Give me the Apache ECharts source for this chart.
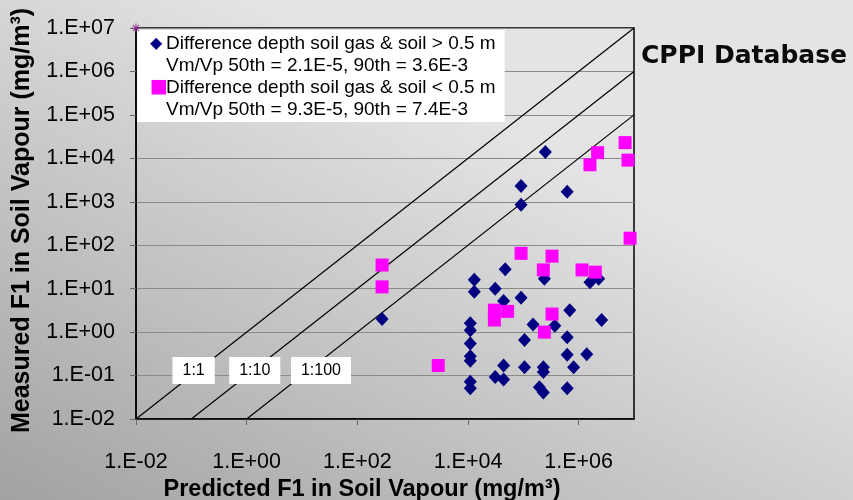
<!DOCTYPE html>
<html>
<head>
<meta charset="utf-8">
<script src="https://cdn.jsdelivr.net/npm/echarts@6/dist/echarts.min.js"></script>
<style>
  html, body { margin: 0; padding: 0; }
  #chart { width: 853px; height: 500px; }
</style>
</head>
<body>
<div id="chart"></div>
<script>
// depth difference > 0.5 m
const deepPredicted = [2.5e5, 9.1e4, 6.2e5, 9.1e4, 4.7e4, 2.4e5, 1.6e6, 2.3e6, 1.3e4, 1.3e4,
  3.1e4, 4.4e4, 9.1e4, 2.8e2, 6.9e5, 2.6e6, 1.5e5, 3.7e5, 1.1e4, 1.1e4,
  1.1e4, 1.05e5, 6.2e5, 1.1e4, 1.1e4, 6.2e5, 1.4e6, 4.4e4, 1.05e5, 2.3e5,
  2.3e5, 8.1e5, 3.1e4, 4.4e4, 1.1e4, 1.1e4, 1.95e5, 2.3e5, 6.2e5]
const deepMeasured = [1.4e4, 2.3e3, 1.7e3, 850, 28, 17, 14, 17, 16, 8.5,
  10, 5.2, 6.2, 2.0, 3.2, 1.9, 1.5, 1.4, 1.6, 1.1,
  0.55, 0.66, 0.76, 0.28, 0.22, 0.30, 0.31, 0.17, 0.155, 0.155,
  0.12, 0.155, 0.093, 0.081, 0.072, 0.051, 0.054, 0.041, 0.051]

// depth difference < 0.5 m
const shallowPredicted = [6.9e6, 2.2e6, 1.6e6, 7.8e6, 8.5e6, 9.1e4, 3.3e5, 2.8e2, 2.8e2,
  2.3e5, 1.15e6, 2.0e6, 3.0e4, 3.0e4, 5.2e4, 3.3e5, 2.4e5, 2.9e3]
const shallowMeasured = [2.3e4, 1.35e4, 7.1e3, 9.1e3, 145, 65, 56, 35, 11,
  27, 27, 24, 3.2, 1.9, 3.0, 2.6, 1.0, 0.17]

const deepName = "Difference depth soil gas & soil > 0.5 m"
const shallowName = "Difference depth soil gas & soil < 0.5 m"
const statsText = {
  [deepName]: "Vm/Vp 50th = 2.1E-5, 90th = 3.6E-3",
  [shallowName]: "Vm/Vp 50th = 9.3E-5, 90th = 7.4E-3",
}

// reference lines (predicted, measured end points)
const line1to1 = [[0.01, 0.01], [1e7, 1e7]]
const line1to10 = [[0.1, 0.01], [1e7, 1e6]]
const line1to100 = [[1, 0.01], [1e7, 1e5]]
const scaleMarker = [[0.01, 1e7]]

const zip = (xs, ys) => xs.map((x, i) => [x, ys[i]])

function expLabel(v) {
  const e = Math.round(Math.log10(v))
  return "1.E" + (e < 0 ? "-" : "+") + String(Math.abs(e)).padStart(2, "0")
}

function refLine(name, data, labelText, labelCoord) {
  return {
    name,
    type: "line",
    data,
    symbol: "none",
    silent: true,
    z: 1,
    lineStyle: { color: "#000", width: 1.2 },
    markPoint: {
      symbol: "rect",
      symbolSize: 0,
      silent: true,
      data: [{ coord: labelCoord }],
      label: {
        show: true,
        position: "inside",
        formatter: labelText,
        backgroundColor: "#fff",
        padding: [6, 10, 5, 10],
        color: "#000",
        fontSize: 16,
        fontFamily: "Liberation Sans",
      },
    },
  }
}

const chart = echarts.init(document.getElementById("chart"))

const axisFont = { color: "#000", fontSize: 21.5, fontFamily: "Liberation Sans" }

chart.setOption({
  animation: false,
  backgroundColor: new echarts.graphic.LinearGradient(0.3, 0, 0, 1, [
    { offset: 0, color: "#e4e4e4" },
    { offset: 1, color: "#a2a2a2" },
  ]),
  title: {
    text: "CPPI Database",
    left: 641,
    top: 44,
    padding: 0,
    textStyle: { fontFamily: "DejaVu Sans", fontWeight: "bold", fontSize: 25, color: "#0a0a0a" },
  },
  grid: {
    left: 136,
    right: 219,
    top: 28,
    bottom: 81,
    outerBoundsMode: "none",
    containLabel: false,
    show: true,
    borderColor: "#000",
    borderWidth: 1.5,
    backgroundColor: "transparent",
  },
  legend: {
    data: [deepName, shallowName],
    orient: "vertical",
    left: 137,
    top: 30,
    itemWidth: 0,
    itemHeight: 0,
    itemGap: 3,
    backgroundColor: "#fff",
    padding: [4, 9, 3, 8],
    selectedMode: false,
    formatter: (name) => {
      const mark = name === deepName ? "{d|◆}" : "{s|■}"
      return mark + "{t|" + name + "}\n{i| }{t|" + statsText[name] + "}"
    },
    textStyle: {
      rich: {
        d: { color: "#000080", fontSize: 16, width: 16, fontFamily: "DejaVu Sans", lineHeight: 22 },
        s: { color: "#ff00ff", fontSize: 19, width: 16, fontFamily: "DejaVu Sans", lineHeight: 22 },
        i: { width: 16, lineHeight: 22 },
        t: { color: "#000", fontSize: 19, fontFamily: "Liberation Sans", lineHeight: 22 },
      },
    },
  },
  xAxis: {
    type: "log",
    min: 0.01,
    max: 1e7,
    interval: 2,
    name: "Predicted F1 in Soil Vapour (mg/m³)",
    nameLocation: "middle",
    nameGap: 56,
    nameTextStyle: { color: "#000", fontSize: 23.5, fontWeight: "bold", fontFamily: "Liberation Sans", padding: [0, 46, 0, 0] },
    axisLine: { show: true, lineStyle: { color: "#000", width: 1.5 } },
    axisTick: { show: true, length: 6, lineStyle: { color: "#666" } },
    axisLabel: Object.assign({ margin: 32, formatter: expLabel, showMaxLabel: false }, axisFont),
    splitLine: { show: false },
    minorSplitLine: { show: false },
  },
  yAxis: {
    type: "log",
    min: 0.01,
    max: 1e7,
    interval: 1,
    name: "Measured F1 in Soil Vapour (mg/m³)",
    nameLocation: "middle",
    nameGap: 101,
    nameTextStyle: { color: "#000", fontSize: 25, fontWeight: "bold", fontFamily: "Liberation Sans", padding: [0, 0, 0, 6] },
    axisLine: { show: true, lineStyle: { color: "#000", width: 1.5 } },
    axisTick: { show: true, length: 6, lineStyle: { color: "#666" } },
    axisLabel: Object.assign({ margin: 21, formatter: expLabel }, axisFont),
    splitLine: { show: true, lineStyle: { color: "#8a8a8a", width: 1.2 } },
  },
  series: [
    refLine("1:1", line1to1, "1:1", [0.11, 0.13]),
    refLine("1:10", line1to10, "1:10", [1.4, 0.13]),
    refLine("1:100", line1to100, "1:100", [22, 0.13]),
    {
      name: deepName,
      type: "scatter",
      data: zip(deepPredicted, deepMeasured),
      symbol: "diamond",
      symbolSize: [13, 14],
      clip: false,
      z: 3,
      itemStyle: { color: "#000080", opacity: 1 },
    },
    {
      name: shallowName,
      type: "scatter",
      data: zip(shallowPredicted, shallowMeasured),
      symbol: "rect",
      symbolSize: 13,
      clip: false,
      z: 4,
      itemStyle: { color: "#ff00ff", opacity: 1 },
    },
    {
      name: "scale",
      type: "scatter",
      data: scaleMarker,
      symbol: "path://M0,5L10,5M5,0L5,10M1.5,1.5L8.5,8.5M8.5,1.5L1.5,8.5",
      symbolSize: 9,
      clip: false,
      silent: true,
      z: 5,
      itemStyle: { color: "transparent", borderColor: "#8b2a8b", borderWidth: 1.2 },
    },
  ],
})
</script>
</body>
</html>
